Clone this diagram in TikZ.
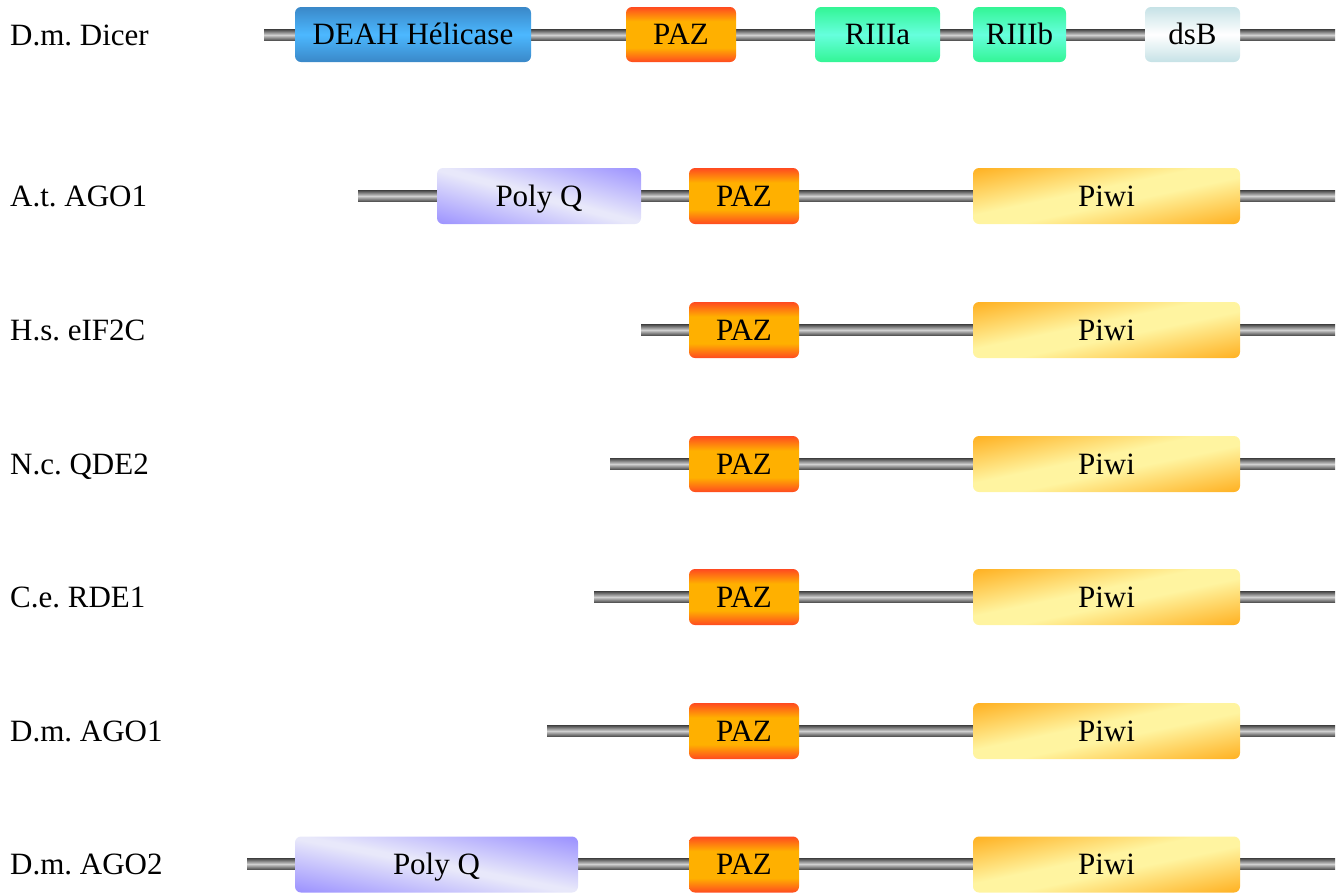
\documentclass[tikz,border=0pt]{standalone}
\usepackage{fontspec}
\setmainfont{Liberation Serif}
\frenchspacing
\usetikzlibrary{calc}
\definecolor{bluedark}{HTML}{3A88C8}
\definecolor{bluelight}{HTML}{4CB8FF}
\definecolor{orgdark}{HTML}{FF4A20}
\definecolor{orglight}{HTML}{FFB000}
\definecolor{grndark}{HTML}{33F595}
\definecolor{grnlight}{HTML}{66FFDD}
\definecolor{dsbdark}{HTML}{C6E2E6}
\definecolor{polydark}{HTML}{9A90FF}
\definecolor{polylight}{HTML}{E8E8FA}
\definecolor{piwidark}{HTML}{FFB020}
\definecolor{piwilight}{HTML}{FFF4A0}
\definecolor{bbdark}{HTML}{4A4A4A}
\definecolor{bblight}{HTML}{D0D0D0}
\pgfdeclareverticalshading{pazsh}{100bp}{color(0bp)=(orgdark); color(25bp)=(orgdark); color(38bp)=(orglight); color(62bp)=(orglight); color(75bp)=(orgdark); color(100bp)=(orgdark)}
\pgfdeclareverticalshading{piwish}{100bp}{color(0bp)=(piwidark); color(25bp)=(piwidark); color(46bp)=(piwilight); color(54bp)=(piwilight); color(75bp)=(piwidark); color(100bp)=(piwidark)}
\pgfdeclareverticalshading{polysh}{100bp}{color(0bp)=(polydark); color(25bp)=(polydark); color(49bp)=(polylight); color(51bp)=(polylight); color(75bp)=(polydark); color(100bp)=(polydark)}
\tikzset{
  txt/.style={font=\fontsize{31}{36}\selectfont},
  lbl/.style={txt, anchor=base west, inner sep=0pt},
  dom/.style={txt, rounded corners=6pt, inner sep=0pt, minimum height=56pt,
    text height=20pt, text depth=0pt, anchor=center},
  helic/.style={dom, top color=bluedark, bottom color=bluedark, middle color=bluelight},
  paz/.style={dom, shade, shading=pazsh, minimum width=110pt},
  riii/.style={dom, top color=grndark, bottom color=grndark, middle color=grnlight},
  dsb/.style={dom, top color=dsbdark, bottom color=dsbdark, middle color=white},
  polyq/.style={dom},
  piwi/.style={dom, minimum width=267pt},
  backbone/.style={top color=bbdark, bottom color=bbdark, middle color=bblight}
}
\newcommand{\bbline}[2]{\shade[backbone] ($(#1)+(0,-5.5)$) rectangle ($(#2)+(0,5.5)$);}
% diagonal gradient fill of a rounded box: centre x, centre y, width, angle, shading
\newcommand{\diagfill}[5]{%
  \begin{scope}
    \clip[rounded corners=6pt] ({#1-#3/2},{#2-28}) rectangle ({#1+#3/2},{#2+28});
    \begin{scope}[transform canvas={rotate around={#4:(#1,#2)}}]
      \shade[shading=#5] ({#1-350},{#2-55}) rectangle ({#1+350},{#2+55});
    \end{scope}
  \end{scope}}
\begin{document}
\begin{tikzpicture}[x=1pt,y=-1pt]
\useasboundingbox (0,0) rectangle (1339,892);
% backbone coordinates
\coordinate (s1) at (264,35);  \coordinate (e1) at (1335,35);
\coordinate (s2) at (358,196); \coordinate (e2) at (1335,196);
\coordinate (s3) at (641,330); \coordinate (e3) at (1335,330);
\coordinate (s4) at (610,464); \coordinate (e4) at (1335,464);
\coordinate (s5) at (594,597); \coordinate (e5) at (1335,597);
\coordinate (s6) at (547,731); \coordinate (e6) at (1335,731);
\coordinate (s7) at (247,864); \coordinate (e7) at (1335,864);
\bbline{s1}{e1}
\bbline{s2}{e2}
\bbline{s3}{e3}
\bbline{s4}{e4}
\bbline{s5}{e5}
\bbline{s6}{e6}
\bbline{s7}{e7}
% diagonal gradient fills
\diagfill{539}{196}{204}{-15.35}{polysh}
\diagfill{436.5}{864.5}{283}{-11.2}{polysh}
\diagfill{1106.5}{196}{267}{11.84}{piwish}
\diagfill{1106.5}{330}{267}{11.84}{piwish}
\diagfill{1106.5}{464}{267}{11.84}{piwish}
\diagfill{1106.5}{597}{267}{11.84}{piwish}
\diagfill{1106.5}{731}{267}{11.84}{piwish}
\diagfill{1106.5}{864.5}{267}{11.84}{piwish}
% labels
\node[lbl] (l1) at (10,45)  {D.m. Dicer};
\node[lbl] (l2) at (10,206) {A.t. AGO1};
\node[lbl] (l3) at (10,340) {H.s. eIF2C};
\node[lbl] (l4) at (10,474) {N.c. QDE2};
\node[lbl] (l5) at (10,607) {C.e. RDE1};
\node[lbl] (l6) at (10,741) {D.m. AGO1};
\node[lbl] (l7) at (10,874) {D.m. AGO2};
% row 1
\node[helic, minimum width=236pt, minimum height=55pt] (hel) at (413,34.5) {DEAH Hélicase};
\node[paz, minimum height=55pt] (paz1) at (681,34.5) {PAZ};
\node[riii, minimum width=125pt, minimum height=55pt] (r3a) at (877.5,34.5) {RIIIa};
\node[riii, minimum width=93pt, minimum height=55pt] (r3b) at (1019.5,34.5) {RIIIb};
\node[dsb, minimum width=95pt, minimum height=55pt] (dsb) at (1192.5,34.5) {dsB};
% row 2
\node[polyq, minimum width=204pt] (pq2) at (539,196) {Poly Q};
\node[paz] (paz2) at (744,196) {PAZ};
\node[piwi] (piwi2) at (1106.5,196) {Piwi};
% rows 3-6
\node[paz] (paz3) at (744,330) {PAZ};
\node[piwi] (piwi3) at (1106.5,330) {Piwi};
\node[paz] (paz4) at (744,464) {PAZ};
\node[piwi] (piwi4) at (1106.5,464) {Piwi};
\node[paz] (paz5) at (744,597) {PAZ};
\node[piwi] (piwi5) at (1106.5,597) {Piwi};
\node[paz] (paz6) at (744,731) {PAZ};
\node[piwi] (piwi6) at (1106.5,731) {Piwi};
% row 7
\node[polyq, minimum width=283pt] (pq7) at (436.5,864.5) {Poly Q};
\node[paz] (paz7) at (744,864.5) {PAZ};
\node[piwi] (piwi7) at (1106.5,864.5) {Piwi};
\end{tikzpicture}
\end{document}
